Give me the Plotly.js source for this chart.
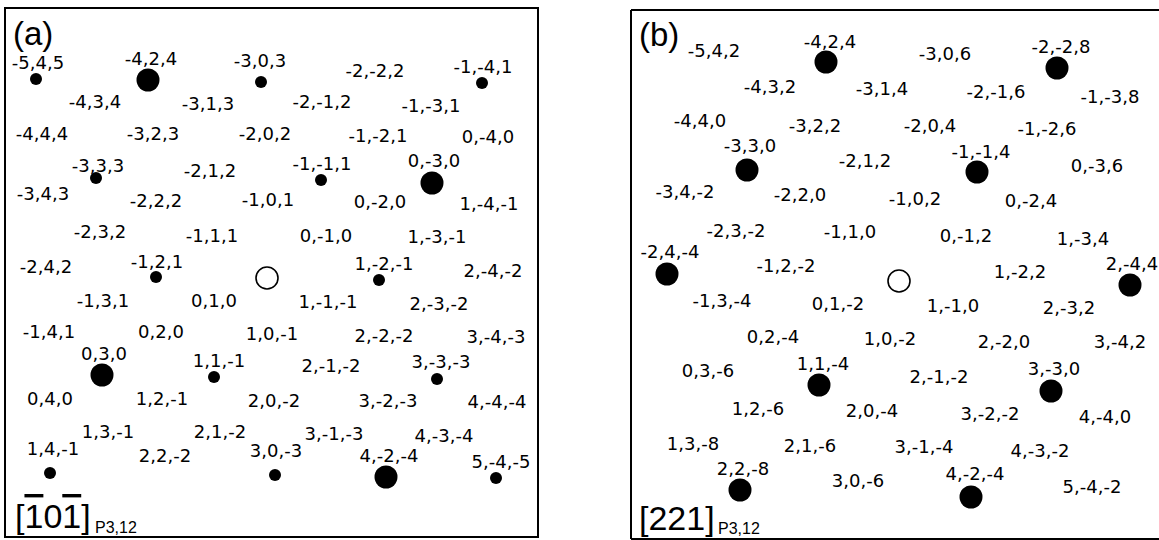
<!DOCTYPE html>
<html>
<head>
<meta charset="utf-8">
<script src="https://cdn.plot.ly/plotly-3.0.1.min.js"></script>
<style>html,body{margin:0;padding:0;background:#fff}</style>
</head>
<body>
<div id="chart" style="width:1159px;height:540px"></div>
<script>
// ---- Panel (a): zone [-1 0 -1], reflection labels (h,k,l) and their read positions ----
const aLabels = ["-5,4,5","-4,2,4","-3,0,3","-2,-2,2","-1,-4,1",
  "-4,3,4","-3,1,3","-2,-1,2","-1,-3,1",
  "-4,4,4","-3,2,3","-2,0,2","-1,-2,1","0,-4,0",
  "-3,3,3","-2,1,2","-1,-1,1","0,-3,0",
  "-3,4,3","-2,2,2","-1,0,1","0,-2,0","1,-4,-1",
  "-2,3,2","-1,1,1","0,-1,0","1,-3,-1",
  "-2,4,2","-1,2,1","1,-2,-1","2,-4,-2",
  "-1,3,1","0,1,0","1,-1,-1","2,-3,-2",
  "-1,4,1","0,2,0","1,0,-1","2,-2,-2","3,-4,-3",
  "0,3,0","1,1,-1","2,-1,-2","3,-3,-3",
  "0,4,0","1,2,-1","2,0,-2","3,-2,-3","4,-4,-4",
  "1,3,-1","2,1,-2","3,-1,-3","4,-3,-4",
  "1,4,-1","2,2,-2","3,0,-3","4,-2,-4","5,-4,-5"];
const aLabelX = [38,151,260,375,483, 95,208,322,431, 42,153,265,378,488, 98,210,322,434,
  43,156,268,380,489, 100,212,326,437, 46,157,384,493, 103,214,328,439,
  49,161,272,384,496, 104,219,331,441, 50,162,274,388,497, 108,220,334,444,
  53,165,276,389,501];
const aLabelY = [64,60,62,72,68, 103,105,103,107, 135,135,135,137,138, 167,172,165,162,
  195,202,201,203,205, 233,237,237,238, 268,263,265,272, 302,302,303,305,
  333,333,335,337,338, 355,362,367,363, 400,400,402,402,403, 433,433,435,437,
  450,457,452,457,463];
const aSpotHkl  = ["-5,4,5","-4,2,4","-3,0,3","-1,-4,1","-3,3,3","-1,-1,1","0,-3,0","-1,2,1",
  "1,-2,-1","0,3,0","1,1,-1","3,-3,-3","1,4,-1","3,0,-3","4,-2,-4","5,-4,-5"];
const aSpotX    = [36,148,261,482,96,321,432,156,379,102,214,437,50,275,386,496];
const aSpotY    = [79,80,82,83,178,180,183,277,280,375,377,379,473,475,477,478];
const aSpotKind = ["weak","strong","weak","weak","weak","weak","strong","weak",
  "weak","strong","weak","weak","weak","weak","strong","weak"];
const aOriginX = [267], aOriginY = [278];

// ---- Panel (b): zone [221] ----
const bLabels = ["-5,4,2","-4,2,4","-3,0,6","-2,-2,8",
  "-4,3,2","-3,1,4","-2,-1,6","-1,-3,8",
  "-4,4,0","-3,2,2","-2,0,4","-1,-2,6",
  "-3,3,0","-2,1,2","-1,-1,4","0,-3,6",
  "-3,4,-2","-2,2,0","-1,0,2","0,-2,4",
  "-2,3,-2","-1,1,0","0,-1,2","1,-3,4",
  "-2,4,-4","-1,2,-2","1,-2,2","2,-4,4",
  "-1,3,-4","0,1,-2","1,-1,0","2,-3,2",
  "0,2,-4","1,0,-2","2,-2,0","3,-4,2",
  "0,3,-6","1,1,-4","2,-1,-2","3,-3,0",
  "1,2,-6","2,0,-4","3,-2,-2","4,-4,0",
  "1,3,-8","2,1,-6","3,-1,-4","4,-3,-2",
  "2,2,-8","3,0,-6","4,-2,-4","5,-4,-2"];
const bLabelX = [714,830,945,1061, 770,882,996,1110, 700,815,930,1047, 750,865,981,1097,
  685,800,915,1031, 736,850,966,1083, 670,786,1020,1132, 722,838,953,1069,
  773,890,1004,1120, 708,823,939,1054, 758,872,990,1105, 693,810,924,1040,
  743,858,975,1092];
const bLabelY = [52,43,55,48, 88,90,93,98, 122,127,127,130, 147,162,153,167,
  193,196,200,202, 232,233,237,240, 253,267,273,265, 302,305,307,309,
  338,340,343,343, 372,365,378,370, 410,412,415,418, 445,447,448,452,
  470,482,475,488];
const bSpotHkl = ["-4,2,4","-2,-2,8","-3,3,0","-1,-1,4","-2,4,-4","2,-4,4",
  "1,1,-4","3,-3,0","2,2,-8","4,-2,-4"];
const bSpotX = [826,1057,747,977,667,1130,819,1051,740,971];
const bSpotY = [62,68,170,172,274,285,385,391,490,497];
const bSpotKind = ["strong","strong","strong","strong","strong","strong",
  "strong","strong","strong","strong"];
const bOriginX = [899], bOriginY = [281];

const panelTags = ["(a)", "(b)"];
const bar1 = "<span style='text-decoration:overline'>1</span>";
const zoneAxes = ["[" + bar1 + "0" + bar1 + "]", "[221]"];
const zoneSub = "P3,12";

// ---- styles ----
const labelFont = {family: "DejaVu Sans, sans-serif", size: 18, color: "#000"};
const kindSize = {strong: 23, weak: 12};

function spotsTrace(xs, ys, kinds, names, xa, ya) {
  return {type: "scatter", mode: "markers", x: xs, y: ys, text: names,
    xaxis: xa, yaxis: ya, hoverinfo: "text", cliponaxis: false,
    marker: {color: "#000", opacity: 1, size: kinds.map(k => kindSize[k]),
      line: {width: 0, color: "#000"}}};
}
function labelTrace(xs, ys, txt, xa, ya) {
  return {type: "scatter", mode: "text", x: xs, y: ys, text: txt,
    xaxis: xa, yaxis: ya, textposition: "middle center", textfont: labelFont,
    hoverinfo: "skip", cliponaxis: false};
}
function originTrace(xs, ys, xa, ya) {
  return {type: "scatter", mode: "markers", x: xs, y: ys, xaxis: xa, yaxis: ya,
    hoverinfo: "skip", cliponaxis: false,
    marker: {symbol: "circle-open", size: 22, opacity: 1, color: "#000",
      line: {width: 1.6, color: "#000"}}};
}

const data = [
  labelTrace(aLabelX, aLabelY, aLabels, "x", "y"),
  spotsTrace(aSpotX, aSpotY, aSpotKind, aSpotHkl, "x", "y"),
  originTrace(aOriginX, aOriginY, "x", "y"),
  labelTrace(bLabelX, bLabelY, bLabels, "x2", "y2"),
  spotsTrace(bSpotX, bSpotY, bSpotKind, bSpotHkl, "x2", "y2"),
  originTrace(bOriginX, bOriginY, "x2", "y2")
];

const W = 1159, H = 540;
const hiddenAxis = {showgrid: false, zeroline: false, showticklabels: false, ticks: "",
  showline: false, fixedrange: true};
const tagFont = {family: "Liberation Sans, Arial, sans-serif", size: 33, color: "#000"};
const zoneFont = {family: "Liberation Sans, Arial, sans-serif", size: 34, color: "#000"};
const subFont = {family: "Liberation Sans, Arial, sans-serif", size: 16, color: "#000"};

const layout = {
  width: W, height: H, margin: {l: 0, r: 0, t: 0, b: 0, pad: 0},
  paper_bgcolor: "#fff", plot_bgcolor: "#fff", showlegend: false,
  xaxis:  Object.assign({}, hiddenAxis, {domain: [5 / W, 538 / W], range: [5, 538], anchor: "y"}),
  yaxis:  Object.assign({}, hiddenAxis, {domain: [3 / H, 532 / H], range: [537, 8], anchor: "x"}),
  xaxis2: Object.assign({}, hiddenAxis, {domain: [631 / W, 1], range: [631, 1159], anchor: "y2"}),
  yaxis2: Object.assign({}, hiddenAxis, {domain: [1 / H, 530 / H], range: [539, 10], anchor: "x2"}),
  shapes: [
    {type: "rect", xref: "x domain", yref: "y domain", x0: 0, x1: 1, y0: 0, y1: 1,
      line: {color: "#000", width: 2}},
    {type: "line", xref: "x2 domain", yref: "y2 domain", x0: 0, x1: 0, y0: 0, y1: 1,
      line: {color: "#000", width: 2}},
    {type: "line", xref: "x2 domain", yref: "y2 domain", x0: 0, x1: 1, y0: 1, y1: 1,
      line: {color: "#000", width: 2}},
    {type: "line", xref: "x2 domain", yref: "y2 domain", x0: 0, x1: 1, y0: 0, y1: 0,
      line: {color: "#000", width: 2}}
  ],
  annotations: [
    {text: panelTags[0], xref: "x", yref: "y", x: 11, y: 33, xanchor: "left", yanchor: "middle",
      showarrow: false, font: tagFont},
    {text: panelTags[1], xref: "x2", yref: "y2", x: 638, y: 35, xanchor: "left", yanchor: "middle",
      showarrow: false, bgcolor: "#fff", borderpad: 0, font: tagFont},
    {text: zoneAxes[0], xref: "x", yref: "y", x: 13, y: 516, xanchor: "left", yanchor: "middle",
      showarrow: false, font: zoneFont},
    {text: zoneSub, xref: "x", yref: "y", x: 93, y: 527, xanchor: "left", yanchor: "middle",
      showarrow: false, font: subFont},
    {text: zoneAxes[1], xref: "x2", yref: "y2", x: 637, y: 518, xanchor: "left", yanchor: "middle",
      showarrow: false, font: zoneFont},
    {text: zoneSub, xref: "x2", yref: "y2", x: 716, y: 528, xanchor: "left", yanchor: "middle",
      showarrow: false, font: subFont}
  ]
};

Plotly.newPlot("chart", data, layout, {displayModeBar: false, staticPlot: true});
</script>
</body>
</html>
